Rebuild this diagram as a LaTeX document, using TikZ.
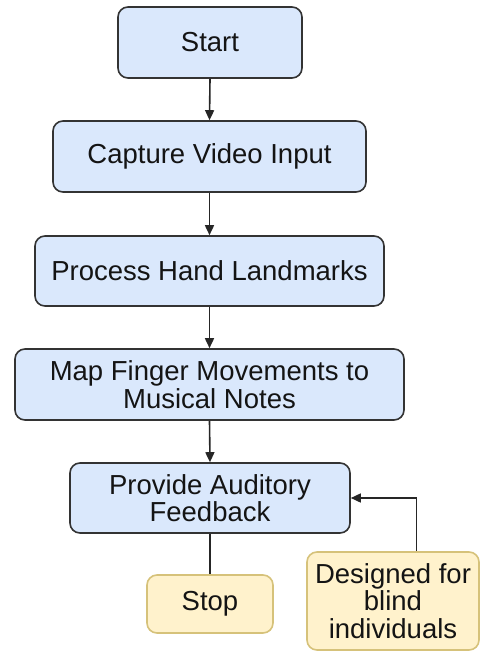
\documentclass[tikz,border=0pt]{standalone}
\usepackage{fontspec}
\setmainfont{Liberation Sans}
\usetikzlibrary{positioning,arrows.meta,calc}
\definecolor{stepblue}{HTML}{DAE8FC}
\definecolor{noteyellow}{HTML}{FFF2CC}
\definecolor{noteedge}{HTML}{D6C27A}
\tikzset{
  % --- boxes -----------------------------------------------------------
  base/.style    ={rounded corners=10pt, draw, line width=1.6pt, align=center,
                   inner sep=0pt, font=\fontsize{27.5}{27.5}\selectfont, text=black!92},
  stepbox/.style ={base, fill=stepblue, draw=black!80, minimum height=71pt},
  endbox/.style  ={base, fill=noteyellow, draw=noteedge},
  % --- arrows ----------------------------------------------------------
  arrow/.style   ={-{Triangle[length=10pt,width=9pt]}, line width=1.6pt, draw=black!85},
  plain/.style   ={line width=1.6pt, draw=black!85},
}

\begin{document}
\begin{tikzpicture}[x=1pt,y=-1pt]
  \useasboundingbox (0,0) rectangle (480,651);

  % ===================== main flow =====================
  \node[stepbox, minimum width=184pt] (start) at (210,42.5) {Start};
  \node[stepbox, minimum width=313pt] (cap)   at (209.5,156.5) {Capture Video Input};
  \node[stepbox, minimum width=349pt, minimum height=70pt] (proc) at (209.5,271)
    {Process Hand Landmarks};
  \node[stepbox, minimum width=389pt] (map)   at (209.5,384.5)
    {Map Finger Movements to\\Musical Notes};
  \node[stepbox, minimum width=280pt, minimum height=70pt] (prov) at (210,498)
    {Provide Auditory\\Feedback};

  % ===================== end + note =====================
  \node[endbox, minimum width=126pt, minimum height=58pt] (stop) at (210,604) {Stop};
  \node[endbox, minimum width=172pt, minimum height=98pt] (blind) at (393,601)
    {Designed for\\blind\\individuals};

  % ===================== edges =====================
  \draw[arrow] (start.south) -- (cap.north);
  \draw[arrow] (cap.south) -- (proc.north);
  \draw[arrow] (proc.south) -- (map.north);
  \draw[arrow] (map.south) -- (prov.north);
  \draw[plain] (prov.south) -- (stop.north);
  \draw[arrow] ($(blind.north)+(23.5,0)$) |- (prov.east);

\end{tikzpicture}
\end{document}
